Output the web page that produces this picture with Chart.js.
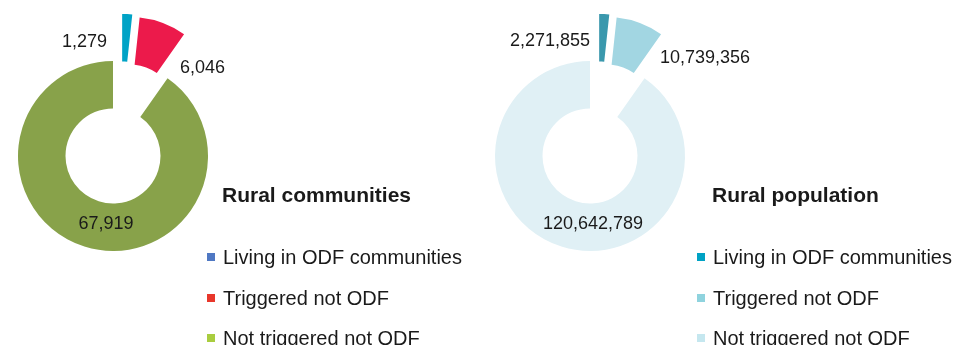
<!DOCTYPE html>
<html>
<head>
<meta charset="utf-8">
<script src="https://cdn.jsdelivr.net/npm/chart.js@4"></script>
<style>
    body { margin: 0; background: #fff; font-family: 'Liberation Sans', Arial, sans-serif; color: #1a1a1a; }
    #page { position: relative; width: 953px; height: 345px; overflow: hidden; }
    .layer { position: absolute; left: 0; top: 0; width: 953px; height: 345px; }
    .title { position: absolute; font-weight: bold; font-size: 21px; line-height: 21px; white-space: nowrap; }
    .legend { position: absolute; font-size: 20px; line-height: 20px; }
    .legend div { position: relative; height: 40.5px; white-space: nowrap; }
    .legend span.box { position: absolute; left: -16px; top: 6px; width: 8px; height: 8px; }
</style>
</head>
<body>
<div id="page">
    <div class="layer"><canvas id="communities"></canvas></div>
    <div class="layer"><canvas id="population"></canvas></div>
    <div class="title" style="left:222px; top:184px;">Rural communities</div>
    <div class="title" style="left:712px; top:184px;">Rural population</div>
    <div class="legend" id="legendCommunities" style="left:223px; top:247px;"></div>
    <div class="legend" id="legendPopulation" style="left:713px; top:247px;"></div>
</div>
<script>
const categories = ['Living in ODF communities', 'Triggered not ODF', 'Not triggered not ODF'];
const communities = [1279, 6046, 67919];
const population = [2271855, 10739356, 120642789];

const FONT = "'Liberation Sans', Arial, sans-serif";

// pull the small slices out of the ring; direction is the slice's middle angle
// unless a fixed angle (degrees clockwise from top) is given
const explodePlugin = {
    id: 'explode',
    beforeDatasetDraw(chart, args, opts) {
        const meta = chart.getDatasetMeta(args.index);
        const area = chart.chartArea;
        const cx = (area.left + area.right) / 2 + (meta.controller.offsetX || 0);
        const cy = (area.top + area.bottom) / 2 + (meta.controller.offsetY || 0);
        meta.data.forEach((arc, i) => {
            const d = (opts.distance || [])[i] || 0;
            const fixed = (opts.angle || [])[i];
            const dir = fixed != null ? (fixed - 90) * Math.PI / 180 : (arc.startAngle + arc.endAngle) / 2;
            arc.x = cx + Math.cos(dir) * d;
            arc.y = cy + Math.sin(dir) * d;
        });
    }
};

// value labels, placed relative to the ring centre
const valueLabels = {
    id: 'valueLabels',
    afterDatasetsDraw(chart, args, opts) {
        const ctx = chart.ctx;
        const area = chart.chartArea;
        const cx = (area.left + area.right) / 2;
        const cy = (area.top + area.bottom) / 2;
        const values = chart.data.datasets[0].data;
        ctx.save();
        ctx.font = '18px ' + FONT;
        ctx.fillStyle = '#1a1a1a';
        ctx.textBaseline = 'alphabetic';
        values.forEach((v, i) => {
            const p = opts.positions[i];
            ctx.textAlign = p[2];
            ctx.fillText(v.toLocaleString('en-US'), cx + p[0], cy + p[1]);
        });
        ctx.restore();
    }
};

function drawDoughnut(id, values, colors, centerX, positions) {
    const ctx = document.getElementById(id).getContext('2d');
    new Chart(ctx, {
        type: 'doughnut',
        data: {
            labels: categories,
            datasets: [{
                data: values,
                backgroundColor: colors,
                borderWidth: 0
            }]
        },
        options: {
            responsive: true,
            maintainAspectRatio: false,
            animation: false,
            events: [],
            radius: 95,
            cutout: '50%',
            layout: {
                padding: { left: centerX - 113, right: 953 - centerX - 113, top: 0, bottom: 33 }
            },
            plugins: {
                legend: { display: false },
                tooltip: { enabled: false },
                explode: { distance: [48, 47, 0], angle: [11, null, null] },
                valueLabels: { positions: positions }
            }
        },
        plugins: [explodePlugin, valueLabels]
    });
}

function buildLegend(id, colors) {
    const el = document.getElementById(id);
    el.innerHTML = categories.map((c, i) =>
        `<div><span class="box" style="background:${colors[i]}"></span>${c}</div>`
    ).join('');
}

drawDoughnut('communities', communities, ['#00a3c6', '#ec1a4b', '#88a24a'], 113,
    [[-6, -109.5, 'right'], [67, -83.5, 'left'], [-7, 73.3, 'center']]);
drawDoughnut('population', population, ['#3a98ad', '#a2d6e2', '#e0f0f5'], 590,
    [[0, -110, 'right'], [70, -92.7, 'left'], [3, 73, 'center']]);

buildLegend('legendCommunities', ['#4f78c3', '#e8372b', '#a9cd3f']);
buildLegend('legendPopulation', ['#00a2c4', '#8fd3de', '#c5e7ef']);
</script>
</body>
</html>
